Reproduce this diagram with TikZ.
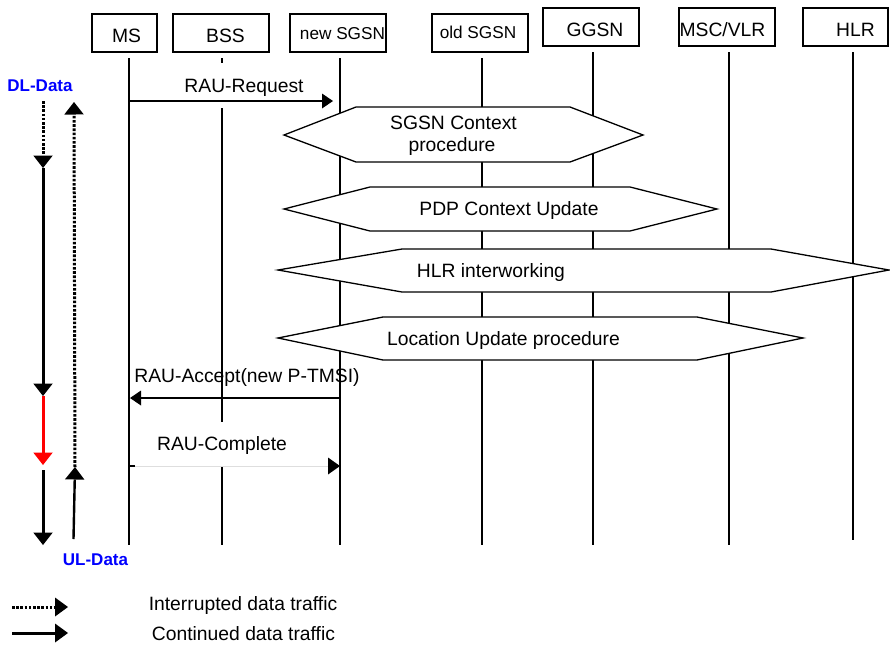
\documentclass[tikz,border=0pt]{standalone}
\usepackage{fontspec}
\setmainfont{Liberation Sans}
\usetikzlibrary{arrows.meta}
\begin{document}
\begin{tikzpicture}[x=1pt,y=-1pt,
  every node/.style={inner sep=0pt, outer sep=0pt},
  entity/.style={draw, line width=1.3pt, minimum height=38pt},
  txt/.style={anchor=base, font=\fontsize{19.3}{22}\selectfont},
  smalltxt/.style={anchor=base, font=\fontsize{17.2}{20}\selectfont},
  datalbl/.style={anchor=base, text=blue, font=\fontsize{17}{20}\selectfont\bfseries},
  lifeline/.style={line width=1.3pt},
  hexa/.style={draw, fill=white, line width=1.3pt, line join=miter},
  msg/.style={line width=1.3pt, -{Triangle[length=11pt,width=15pt,line width=0pt]}},
  flow/.style={line width=3pt, -{Triangle[length=12.5pt,width=19.5pt,line width=0pt]}},
  dotflow/.style={flow, dash pattern=on 2.6pt off 1.6pt}
]
\useasboundingbox (0,0) rectangle (890,646);

% ---------- network elements ----------
\node[entity, minimum width=65pt] (ms)    at (124.5,33) {};
\node[entity, minimum width=96pt] (bss)   at (221,33)   {};
\node[entity, minimum width=96pt] (nsgsn) at (338,33)   {};
\node[entity, minimum width=96pt] (osgsn) at (480,33)   {};
\node[entity, minimum width=96pt] (ggsn)  at (591,27)   {};
\node[entity, minimum width=96pt] (msc)   at (727,27)   {};
\node[entity, minimum width=85pt] (hlr)   at (845.5,27) {};

\node[txt]      (msT)    at (126.5,42) {MS};
\node[txt]      (bssT)   at (225.5,42) {BSS};
\node[smalltxt] (nsgsnT) at (342.5,39) {new SGSN};
\node[smalltxt] (osgsnT) at (478,38.5) {old SGSN};
\node[txt]      (ggsnT)  at (595,36)   {GGSN};
\node[txt]      (mscT)   at (722.5,36) {MSC/VLR};
\node[txt]      (hlrT)   at (855.5,36) {HLR};

% ---------- lifelines ----------
\coordinate (ms0) at (129,58);   \coordinate (ms1) at (129,545);
\coordinate (bs0) at (222,58);   \coordinate (bs1) at (222,63);
\coordinate (bs2) at (222,108);  \coordinate (bs3) at (222,422);
\coordinate (bs4) at (222,467);  \coordinate (bs5) at (222,545);
\coordinate (ns0) at (340,58);   \coordinate (ns1) at (340,545);
\coordinate (os0) at (482,58);   \coordinate (os1) at (482,545);
\coordinate (gg0) at (593,52);   \coordinate (gg1) at (593,545);
\coordinate (mc0) at (729,52);   \coordinate (mc1) at (729,545);
\coordinate (hl0) at (853,52);   \coordinate (hl1) at (853,540);

\draw[lifeline] (ms0) -- (ms1);
\draw[lifeline] (bs0) -- (bs1);
\draw[lifeline] (bs2) -- (bs3);
\draw[lifeline] (bs4) -- (bs5);
\draw[lifeline] (ns0) -- (ns1);
\draw[lifeline] (os0) -- (os1);
\draw[lifeline] (gg0) -- (gg1);
\draw[lifeline] (mc0) -- (mc1);
\draw[lifeline] (hl0) -- (hl1);

% ---------- procedures ----------
\path[hexa] (284,135) -- (356,107) -- (570,107) -- (643,135) -- (570,162) -- (356,162) -- cycle;
\node[txt] (sgsnA) at (453.5,129) {SGSN Context};
\node[txt] (sgsnB) at (452,151)   {procedure};

\path[hexa] (284,209) -- (370,187) -- (630,187) -- (717,209) -- (630,231) -- (370,231) -- cycle;
\node[txt] (pdp) at (509,215) {PDP Context Update};

\path[hexa] (278,270) -- (402,249) -- (771,249) -- (889,270) -- (771,292) -- (402,292) -- cycle;
\node[txt] (hlrw) at (491,277) {HLR interworking};

\path[hexa] (278,338) -- (383,317) -- (697,317) -- (803,338) -- (697,360) -- (383,360) -- cycle;
\node[txt] (locu) at (503.5,345) {Location Update procedure};

% ---------- messages ----------
\coordinate (rq0) at (129,101); \coordinate (rq1) at (333,101);
\draw[msg] (rq0) -- (rq1);
\node[txt] (rqL) at (244,92) {RAU-Request};

\coordinate (ac0) at (340,398); \coordinate (ac1) at (130,398);
\draw[msg] (ac0) -- (ac1);
\node[txt] (acL) at (247,382) {RAU-Accept(new P-TMSI)};

\coordinate (cp0) at (129,466); \coordinate (cpt) at (135,466); \coordinate (cp1) at (340,466);
\draw[line width=1pt, black!13, -{Triangle[length=12pt,width=17pt,line width=0pt,color=black]}] (cp0) -- (cp1);
\draw[line width=1.3pt] (cp0) -- (cpt);
\node[txt] (cpL) at (222,450) {RAU-Complete};

% ---------- user data flows ----------
\coordinate (dl0) at (43,101); \coordinate (dl1) at (43,168);
\coordinate (dl2) at (43,396); \coordinate (dl3) at (43,465);
\coordinate (dl4) at (43,470); \coordinate (dl5) at (43,545);
\draw[dotflow] (dl0) -- (dl1);
\draw[flow] (dl1) -- (dl2);
\draw[flow, red] (dl2) -- (dl3);
\draw[flow] (dl4) -- (dl5);

\coordinate (ul0) at (73.5,539); \coordinate (ul1) at (75,467); \coordinate (ul2) at (74,102);
\draw[dotflow] (ul1) -- (ul2);
\draw[flow, line width=2.4pt] (ul0) -- (ul1);

\node[datalbl] (dlL) at (40,91)    {DL-Data};
\node[datalbl] (ulL) at (95.5,565) {UL-Data};

% ---------- legend ----------
\coordinate (lg0) at (12,607); \coordinate (lg1) at (68,607);
\coordinate (lg2) at (12,633); \coordinate (lg3) at (68,633);
\draw[dotflow, -{Triangle[length=13pt,width=19pt,line width=0pt]}] (lg0) -- (lg1);
\draw[flow, -{Triangle[length=13pt,width=19pt,line width=0pt]}] (lg2) -- (lg3);
\node[txt] (lgA) at (243,610)   {Interrupted data traffic};
\node[txt] (lgB) at (243.5,640) {Continued data traffic};
\end{tikzpicture}
\end{document}
